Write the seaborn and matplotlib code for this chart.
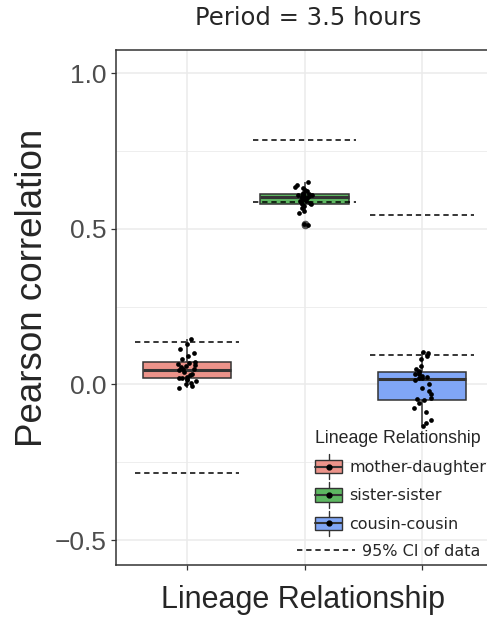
import numpy as np
import pandas as pd
import matplotlib
matplotlib.use("Agg")
import matplotlib.pyplot as plt
import seaborn as sns
from matplotlib.patches import Patch, Rectangle
from matplotlib.lines import Line2D
from matplotlib.legend_handler import HandlerBase
from matplotlib.ticker import MultipleLocator

# correlation values (one per lineage pair)
md_vals = [-0.013, -0.005, 0.0, 0.005, 0.01, 0.015, 0.018, 0.02, 0.022, 0.025,
           0.03, 0.035, 0.04, 0.045, 0.048, 0.05, 0.055, 0.06, 0.062, 0.065,
           0.07, 0.072, 0.08, 0.09, 0.1, 0.115, 0.13, 0.145]
ss_vals = [0.512, 0.515, 0.55, 0.556, 0.565, 0.572, 0.578, 0.58, 0.582, 0.585,
           0.588, 0.59, 0.594, 0.598, 0.60, 0.603, 0.605, 0.606, 0.607, 0.608,
           0.609, 0.61, 0.612, 0.615, 0.62, 0.625, 0.63, 0.635, 0.64, 0.65]
cc_vals = [-0.135, -0.125, -0.115, -0.09, -0.075, -0.06, -0.05, -0.048, -0.045, -0.03,
           -0.02, -0.01, 0.0, 0.015, 0.02, 0.022, 0.025, 0.028, 0.032, 0.035,
           0.04, 0.042, 0.05, 0.06, 0.08, 0.09, 0.1, 0.104]

relations = ["mother-daughter", "sister-sister", "cousin-cousin"]
colors = ["#EC938A", "#5DB761", "#80A6F6"]

# 95% CI of data (two dashed lines per group)
ci_a = [0.136, 0.785, 0.545]
ci_b = [-0.285, 0.587, 0.093]

df = pd.DataFrame({
    "rel": (["mother-daughter"] * len(md_vals) + ["sister-sister"] * len(ss_vals)
            + ["cousin-cousin"] * len(cc_vals)),
    "r": md_vals + ss_vals + cc_vals,
})

sns.set_style("white")

fig = plt.figure(figsize=(4.87, 6.17), dpi=100)
ax = fig.add_axes([116 / 487, 52 / 617, 377 / 487, 515 / 617])

sns.boxplot(data=df, x="rel", y="r", hue="rel", order=relations, hue_order=relations,
            palette=colors, saturation=1, width=0.75, linewidth=1.1, linecolor="#333333",
            fliersize=4.5, dodge=False, legend=False, showcaps=False,
            flierprops=dict(marker="o", markerfacecolor="#555555", markeredgecolor="#555555"),
            medianprops=dict(linewidth=2.2, color="#333333"),
            ax=ax, zorder=2)

np.random.seed(7)
sns.stripplot(data=df, x="rel", y="r", order=relations, color="black", jitter=0.08,
              size=3.4, linewidth=0, ax=ax, zorder=3)

pos = np.arange(len(relations))
ax.hlines(ci_a, pos - 0.44, pos + 0.44, colors="black", linestyles=(0, (3.5, 2.5)),
          linewidth=1.1, zorder=4)
ax.hlines(ci_b, pos - 0.44, pos + 0.44, colors="black", linestyles=(0, (3.5, 2.5)),
          linewidth=1.1, zorder=4)

ax.set_xlim(-0.6, 2.6)
ax.set_ylim(-0.58, 1.074)
ax.set_yticks([-0.5, 0.0, 0.5, 1.0])
ax.yaxis.set_minor_locator(MultipleLocator(0.25))
ax.set_xticks(pos)
ax.set_xticklabels([])
ax.grid(which="major", color="#EBEBEB", linewidth=1.1, zorder=0)
ax.grid(which="minor", axis="y", color="#EBEBEB", linewidth=0.6, zorder=0)
ax.set_axisbelow(True)
ax.tick_params(axis="both", which="major", length=3.5, width=0.9, color="#333333",
               labelcolor="#4D4D4D", labelsize=19, bottom=True, left=True)
ax.tick_params(axis="y", which="minor", length=0)
for lab in ax.get_yticklabels():
    lab.set_fontfamily("Liberation Sans")
for s in ax.spines.values():
    s.set_color("#333333")
    s.set_linewidth(1.1)

ax.set_xlabel("Lineage Relationship", fontsize=22, family="Liberation Sans")
ax.xaxis.set_label_coords(0.495, -0.038)
ax.set_ylabel("Pearson correlation", fontsize=26.5, family="Liberation Sans")
ax.yaxis.set_label_coords(-0.175, 0.538)
fig.text(308 / 487, 1 - 18 / 617, "Period = 3.5 hours", ha="center", va="center",
         fontsize=17.5, family="DejaVu Sans")


class BoxKey(HandlerBase):
    def create_artists(self, legend, orig_handle, xdescent, ydescent, width, height,
                       fontsize, trans):
        x0, y0 = -xdescent, -ydescent
        cx, cy = x0 + width / 2, y0 + height / 2
        whisk = Line2D([cx, cx], [y0 - 0.45 * height, y0 + 1.45 * height],
                       color="#333333", lw=1.0, transform=trans)
        box = Rectangle((x0, y0), width, height, facecolor=orig_handle.get_facecolor(),
                        edgecolor="#333333", lw=1.0, transform=trans)
        med = Line2D([x0, x0 + width], [cy, cy], color="#333333", lw=1.5, transform=trans)
        dot = Line2D([cx], [cy], marker="o", markersize=3.5, color="black", transform=trans)
        return [whisk, box, med, dot]


handles = [Patch(facecolor=c) for c in colors]
leg1 = ax.legend(handles, relations, title="Lineage Relationship", loc="upper left",
                 bbox_to_anchor=(315 / 487, 1 - 430 / 617), bbox_transform=fig.transFigure,
                 frameon=False, handler_map={Patch: BoxKey()}, handlelength=1.7,
                 handleheight=0.9, handletextpad=0.45, labelspacing=0.82,
                 borderpad=0, borderaxespad=0, alignment="left",
                 prop={"family": "DejaVu Sans", "size": 11.5},
                 title_fontproperties={"family": "Liberation Sans", "size": 12.8})
ax.add_artist(leg1)
ax.legend([Line2D([0], [0], color="black", lw=1.1, linestyle=(0, (3.5, 2.5)))],
          ["95% CI of data"], loc="upper left",
          bbox_to_anchor=(297 / 487, 1 - 544 / 617), bbox_transform=fig.transFigure,
          frameon=False, handlelength=3.6, handletextpad=0.5, borderpad=0,
          borderaxespad=0, prop={"family": "DejaVu Sans", "size": 11.5})

fig.savefig("out.png", dpi=100)
